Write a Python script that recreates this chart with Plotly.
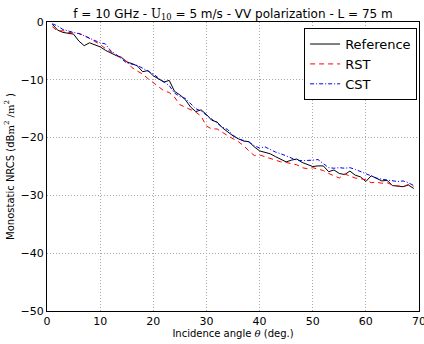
import plotly.graph_objects as go

angles = list(range(1, 70))

reference = [-0.4, -1.4, -1.8, -2.0, -2.1, -3.3, -4.1, -3.6, -4.0, -4.3,
             -4.9, -5.4, -5.8, -6.1, -6.9, -7.2, -7.6, -8.6, -8.4, -9.3,
             -9.9, -10.4, -10.1, -12.0, -12.6, -13.4, -14.7, -15.5, -15.2, -16.0,
             -17.0, -17.3, -18.3, -19.0, -19.7, -20.2, -20.6, -20.7, -21.6, -22.3,
             -22.5, -22.8, -23.3, -23.8, -24.2, -23.9, -23.7, -24.3, -24.7, -25.0,
             -24.9, -24.9, -25.9, -25.6, -26.2, -26.4, -25.8, -26.5, -26.8, -27.6,
             -26.6, -27.0, -27.5, -27.4, -28.3, -28.4, -28.5, -28.2, -28.8]

rst = [-0.8, -1.6, -1.5, -1.8, -1.9, -2.0, -2.3, -2.8, -3.3, -3.9,
       -4.6, -5.2, -5.8, -6.3, -6.8, -7.9, -8.5, -9.0, -9.8, -10.5,
       -11.3, -11.9, -12.2, -13.0, -14.3, -14.7, -15.2, -15.6, -16.3, -18.0,
       -18.5, -18.5, -19.1, -19.7, -20.2, -20.7, -21.4, -22.3, -23.1, -23.0,
       -23.3, -23.7, -24.0, -24.2, -24.3, -24.5, -24.7, -25.2, -25.4, -25.2,
       -25.4, -25.7, -26.2, -26.6, -27.0, -26.3, -26.7, -27.0, -27.1, -27.3,
       -27.8, -27.7, -27.9, -27.8, -28.2, -28.4, -28.5, -28.1, -28.4]

cst = [-0.3, -0.7, -1.3, -1.6, -1.8, -2.0, -2.4, -2.8, -3.1, -3.6,
       -3.8, -5.0, -5.6, -6.3, -7.1, -7.3, -7.5, -8.0, -8.5, -9.0,
       -9.7, -10.3, -11.0, -12.3, -12.9, -13.2, -14.1, -15.0, -15.4, -16.1,
       -16.9, -17.6, -18.2, -18.6, -19.6, -20.2, -20.5, -20.8, -21.4, -21.8,
       -21.6, -22.1, -22.5, -22.8, -23.2, -23.6, -23.9, -24.0, -24.0, -23.9,
       -23.8, -24.5, -25.2, -25.3, -25.2, -25.3, -25.2, -25.5, -25.9, -26.3,
       -26.6, -27.0, -27.2, -27.3, -27.4, -27.6, -27.5, -27.8, -28.3]

x_ticks = [0, 10, 20, 30, 40, 50, 60, 70]
y_ticks = [-50, -40, -30, -20, -10, 0]

fig = go.Figure()
fig.add_trace(go.Scatter(x=angles, y=reference, mode="lines", name="Reference",
                         line=dict(color="black", width=1)))
fig.add_trace(go.Scatter(x=angles, y=rst, mode="lines", name="RST",
                         line=dict(color="#ff0000", width=1, dash="5px,4px")))
fig.add_trace(go.Scatter(x=angles, y=cst, mode="lines", name="CST",
                         line=dict(color="#0000ff", width=1, dash="4px,2px,1px,2px")))

serif = "font-family:DejaVu Serif"
fig.update_layout(
    width=424, height=344,
    margin=dict(l=47, r=5, t=22, b=33, autoexpand=False),
    paper_bgcolor="white", plot_bgcolor="white",
    font=dict(family="DejaVu Sans", size=11, color="black"),
    title=dict(text="f = 10 GHz - <span style='%s'>U<sub>10</sub></span> = 5 m/s - VV polarization - L = 75 m" % serif,
               x=0.5, xref="paper", xanchor="center", y=0.96, yanchor="middle",
               font=dict(size=12, color="black")),
    showlegend=True,
    legend=dict(x=0.995, y=0.979, xanchor="right", yanchor="top",
                bgcolor="white", bordercolor="black", borderwidth=1,
                font=dict(size=13), tracegroupgap=0, itemwidth=30),
)
fig.update_xaxes(range=[0, 70], tickvals=x_ticks, showline=True, linecolor="black",
                 linewidth=1, mirror=True, ticks="", ticklabeloverflow="allow",
                 automargin=False,
                 showgrid=True, gridcolor="#a8a8a8",
                 griddash="1px,2px", gridwidth=1, zeroline=False,
                 title=dict(text="Incidence angle <i style='%s'>θ</i> (deg.)" % serif,
                            font=dict(size=10), standoff=2),
                 tickfont=dict(size=11))
fig.update_yaxes(range=[-50, 0], tickvals=y_ticks, showline=True, linecolor="black",
                 linewidth=1, mirror=True, ticks="", ticklabeloverflow="allow",
                 automargin=False,
                 showgrid=True, gridcolor="#a8a8a8",
                 griddash="1px,2px", gridwidth=1, zeroline=False,
                 title=dict(text="Monostatic NRCS (dB<span style='%s'>m<sup>2</sup> /m<sup>2</sup></span> )" % serif,
                            font=dict(size=10), standoff=4),
                 tickfont=dict(size=11))

fig.write_html("out.html")
